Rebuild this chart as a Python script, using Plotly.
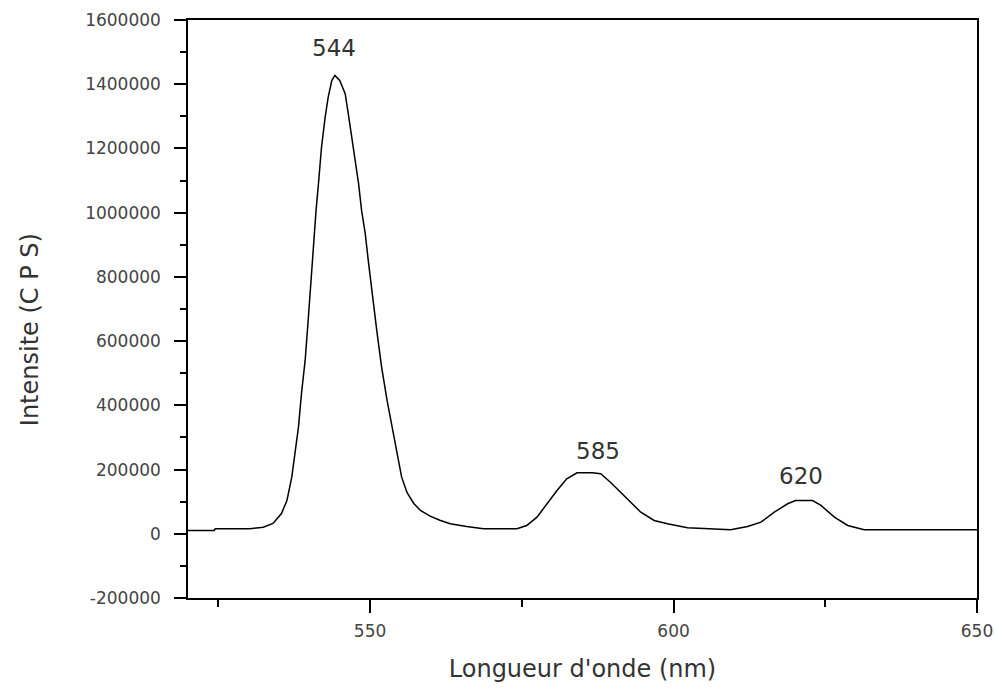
import plotly.graph_objects as go

# Data (wavelength in nm, intensity in CPS)
wavelength = [520, 524.3, 524.5, 530.2, 532.4, 534.0, 535.4, 536.3, 537.1, 537.6, 538.2, 538.7,
              539.3, 539.8, 540.1, 540.4, 540.7, 541.1, 541.5, 542.0, 542.6, 543.1, 543.7,
              544.2, 545.0, 545.9, 546.4, 547.0, 547.5, 548.1, 548.6, 549.2, 549.7, 550.3,
              550.5, 551.1, 551.9, 552.8, 553.6, 554.4, 555.2, 556.1, 557.2, 558.3, 559.9,
              561.5, 563.2, 565.9, 568.7, 574.2, 575.8, 577.5, 579.1, 580.8, 582.4, 584.1,
              586.6, 588.0, 589.6, 591.8, 594.6, 596.8, 599.0, 602.3, 607.8, 609.4, 612.2,
              614.4, 616.6, 618.8, 620.1, 622.9, 624.3, 626.5, 628.7, 631.4, 650]
intensity = [10300, 10300, 15600, 15600, 20600, 32100, 63200, 103800, 176300, 250100, 332100,
             437000, 539800, 664400, 745000, 851300, 913600, 1007100, 1091200, 1204300,
             1297700, 1360000, 1412000, 1427600, 1412000, 1370600, 1309200, 1235400, 1162800,
             1091200, 1007100, 935400, 851300, 768200, 726800, 633300, 519000, 415200, 332100,
             250100, 176300, 128000, 94400, 72600, 55000, 42000, 31200, 22700, 15600, 15600,
             25900, 51700, 93500, 134900, 171300, 190000, 190000, 186900, 160700, 119300,
             67300, 41400, 31200, 18700, 12500, 12500, 22700, 36100, 67300, 93500, 103700,
             103700, 88200, 51700, 25900, 12500, 12500]

peak_labels = ["544", "585", "620"]
peak_x = [544.1, 587.5, 621.0]
peak_y = [1427600, 190000, 103700]

x_ticks = [550, 600, 650]
y_ticks = [-200000, 0, 200000, 400000, 600000, 800000, 1000000, 1200000, 1400000, 1600000]
y_tick_text = [("-" + str(abs(v))) if v < 0 else str(v) for v in y_ticks]

FONT = "DejaVu Sans"

fig = go.Figure()
fig.add_trace(go.Scatter(x=wavelength, y=intensity, mode="lines",
                         line=dict(color="black", width=1.5), showlegend=False,
                         hoverinfo="skip"))

for lab, px, py, sh in zip(peak_labels, peak_x, peak_y, [27, 22, 24]):
    fig.add_annotation(x=px, y=py, text=lab, showarrow=False, yshift=sh,
                       font=dict(family=FONT, size=23, color="#333333"))

# y-axis title placed as rotated annotation (sits slightly below the axis centre)
fig.add_annotation(xref="paper", yref="paper", x=-0.200, y=0.4637,
                   text="Intensite (C P S)", textangle=-90, showarrow=False,
                   xanchor="center", yanchor="middle",
                   font=dict(family=FONT, size=24, color="#333333"))

axis_font = dict(family=FONT, size=17, color="#444444")
fig.update_xaxes(range=[520, 650], tickvals=x_ticks, ticks="outside", ticklen=13,
                 tickwidth=1.5, tickcolor="black", showline=True, linecolor="black",
                 linewidth=1.5, mirror=True, showgrid=False, zeroline=False,
                 tickfont=axis_font, ticklabelstandoff=4, automargin=False,
                 minor=dict(ticks="outside", ticklen=7, tickwidth=1.5, tickcolor="black",
                            dtick=25, tick0=525, showgrid=False),
                 title=dict(text="Longueur d'onde (nm)", standoff=20,
                            font=dict(family=FONT, size=24, color="#333333")))
fig.update_yaxes(range=[-200000, 1600000], tickvals=y_ticks, ticktext=y_tick_text,
                 ticks="outside", ticklen=12, tickwidth=1.5, tickcolor="black",
                 showline=True, linecolor="black", linewidth=1.5, mirror=True,
                 showgrid=False, zeroline=False, tickfont=axis_font, ticklabelstandoff=10,
                 automargin=False,
                 minor=dict(ticks="outside", ticklen=6, tickwidth=1.5, tickcolor="black",
                            dtick=100000, tick0=0, showgrid=False))

fig.update_layout(width=995, height=689, margin=dict(l=188, r=18, t=20, b=91),
                  plot_bgcolor="white", paper_bgcolor="white")

fig.write_html("out.html")
